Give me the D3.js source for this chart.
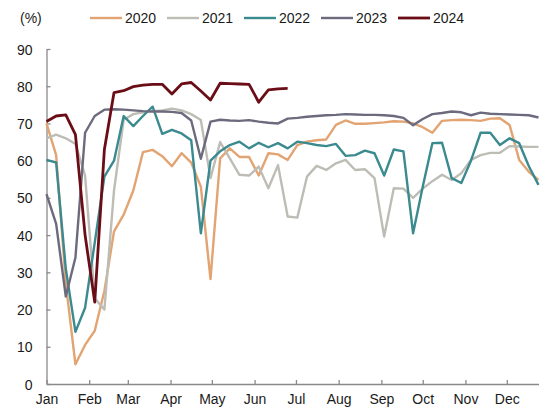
<!DOCTYPE html>
<html>
<head>
<meta charset="utf-8">
<script src="https://cdn.jsdelivr.net/npm/d3@7"></script>
<style>
  body { margin: 0; background: #fff; }
  svg { font-family: "Liberation Sans", Arial, sans-serif; }
</style>
</head>
<body>
<div id="container"></div>
<script>
// weekly utilisation rate (%), one value per week, null = no data yet
let years = ['2020', '2021', '2022', '2023', '2024']

let v2020 = [70, 61.5, 27, 5.3, 10.5, 14.3, 25, 41, 45.5, 52, 62.3, 62.9, 61.2, 58.5, 62, 59.5,
  53, 28.2, 60.6, 63.3, 61, 61, 56, 62, 61.7, 60.2, 64.2, 65.1, 65.5, 65.7, 69.6, 70.8,
  69.9, 69.9, 70.1, 70.3, 70.6, 70.5, 70, 69, 67.5, 70.7, 70.9, 71, 70.9, 70.7, 71.3, 71.4,
  69.6, 60.2, 57, 54.8]
let v2021 = [66, 67, 66, 64.5, 56, 23, 20, 52, 71, 72.5, 73, 73.3, 73.5, 74, 73.5, 72.5,
  70.9, 55.3, 65, 60.6, 56.2, 56, 58.4, 52.6, 58.8, 45, 44.7, 55.7, 58.6, 57.5, 59.3, 60.2,
  57.5, 57.7, 55.3, 39.6, 52.6, 52.5, 50, 52.5, 54.5, 56.2, 54.8, 56.6, 60.2, 61.5, 62.1, 62.1,
  63.9, 63.8, 63.7, 63.7]
let v2022 = [60.2, 59.5, 31, 14, 20.5, 38, 55.7, 60, 72, 69.3, 72, 74.5, 67.2, 68.3, 67.3, 65.5,
  40.5, 60, 62.5, 64.2, 65.1, 63.3, 64.8, 63.6, 64.7, 63.3, 65.1, 64.7, 64.2, 63.9, 64.5, 61.3,
  61.5, 62.7, 62, 56, 63, 62.5, 40.5, 53, 64.7, 64.8, 55.3, 54, 60, 67.5, 67.5, 64.2,
  66, 64.7, 58.5, 53.5]
let v2023 = [51, 43, 23.5, 34, 67.5, 72, 73.7, 73.8, 73.7, 73.5, 73.3, 73.2, 73.2, 73.1, 72.8, 70.8,
  60.5, 70.5, 71, 70.8, 70.7, 70.9, 70.5, 70.2, 70, 71.3, 71.5, 71.8, 72, 72.2, 72.3, 72.5,
  72.4, 72.3, 72.3, 72.2, 72, 71.5, 69.5, 71.2, 72.5, 72.8, 73.2, 73, 72.2, 72.9, 72.6, 72.5,
  72.4, 72.3, 72.2, 71.6]
let v2024 = [70.5, 72, 72.3, 67, 40, 22, 63, 78.3, 78.8, 79.9, 80.3, 80.5, 80.5, 77.9, 80.6, 81,
  78.7, 76.3, 80.8, 80.7, 80.6, 80.5, 75.7, 79, 79.3, 79.4]

let yTicks = [0, 10, 20, 30, 40, 50, 60, 70, 80, 90]
let colours = ['#e2a472', '#bdbdb6', '#3b8a8f', '#6c6b7e', '#6a0d16']
let widths = [2.4, 2.4, 2.4, 2.4, 2.8]

let series = [v2020, v2021, v2022, v2023, v2024]

let width = 550,
  height = 419

let start = new Date(2023, 0, 1)

// x is a time scale, each value sits on its week
let x = d3.scaleTime()
  .domain([start, d3.timeDay.offset(start, 357)])
  .range([46.5, 538.5])

let y = d3.scaleLinear()
  .domain([0, 90])
  .range([384, 49])

let svg = d3.select('#container')
  .append('svg')
  .attr('width', width)
  .attr('height', height)

// axes
let xAxis = svg.append('g')
  .attr('transform', `translate(0,${y(0)})`)
  .call(d3.axisBottom(x)
    .ticks(d3.timeMonth.every(1))
    .tickFormat(d3.timeFormat('%b'))
    .tickSize(-4)
    .tickSizeOuter(0)
    .tickPadding(10))

let yAxis = svg.append('g')
  .attr('transform', `translate(${x(start)},0)`)
  .call(d3.axisLeft(y)
    .tickValues(yTicks)
    .tickSize(-4)
    .tickSizeOuter(0)
    .tickPadding(14))

svg.selectAll('.domain, .tick line')
  .attr('stroke', '#8a8a8a')
  .attr('stroke-width', 1.3)

svg.selectAll('.tick text')
  .attr('fill', '#1a1a1a')
  .attr('font-size', 14)
  .attr('font-family', '"Liberation Sans", Arial, sans-serif')

yAxis.selectAll('.tick text').attr('dy', '0.36em')

svg.append('text')
  .attr('x', 20)
  .attr('y', 23)
  .attr('font-size', 14)
  .attr('fill', '#1a1a1a')
  .text('(%)')

// lines
let line = d3.line()
  .defined(d => d != null)
  .x((d, i) => x(d3.timeDay.offset(start, i * 7)))
  .y(d => y(d))

svg.append('g')
  .selectAll('path')
  .data(series)
  .join('path')
  .attr('fill', 'none')
  .attr('stroke', (d, i) => colours[i])
  .attr('stroke-width', (d, i) => widths[i])
  .attr('stroke-linejoin', 'round')
  .attr('d', line)

// legend
let legend = svg.append('g')
  .selectAll('g')
  .data(years)
  .join('g')
  .attr('transform', (d, i) => `translate(${90 + i * 77},18)`)

legend.append('line')
  .attr('x1', 0)
  .attr('x2', 32)
  .attr('stroke', (d, i) => colours[i])
  .attr('stroke-width', (d, i) => widths[i])

legend.append('text')
  .attr('x', 35)
  .attr('dy', '0.36em')
  .attr('font-size', 14)
  .attr('fill', '#1a1a1a')
  .text(d => d)
</script>
</body>
</html>
